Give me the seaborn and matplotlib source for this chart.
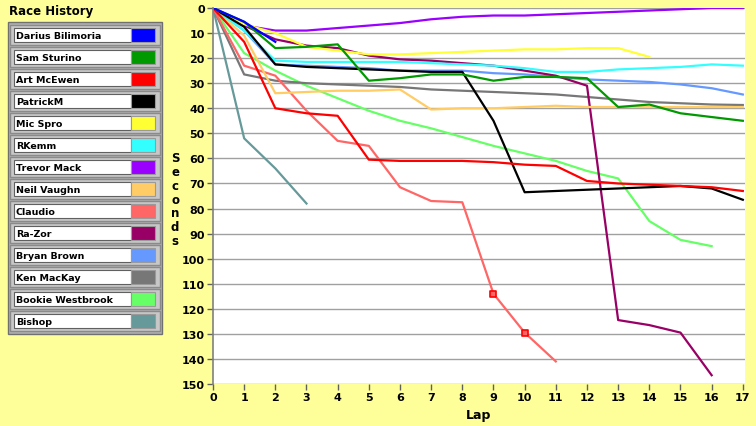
import matplotlib
matplotlib.use("Agg")
import matplotlib.pyplot as plt
from matplotlib.patches import Rectangle
import seaborn as sns
import pandas as pd

# race gap (seconds behind leader) per lap
drivers = ["Darius Bilimoria", "Sam Sturino", "Art McEwen", "PatrickM", "Mic Spro",
           "RKemm", "Trevor Mack", "Neil Vaughn", "Claudio", "Ra-Zor",
           "Bryan Brown", "Ken MacKay", "Bookie Westbrook", "Bishop"]
colors = ["#0000FF", "#009900", "#FF0000", "#000000", "#FFFF33",
          "#33FFFF", "#9900FF", "#FFCC66", "#FF6666", "#990066",
          "#6699FF", "#777777", "#66FF66", "#669999"]

darius = [0, 5.5, 13.5]
sam = [0, 5.5, 16, 15.5, 14.5, 29, 28, 26.5, 26.5, 29, 27.5, 27.5, 28, 39.5, 38.5, 42, 43.5, 45]
art = [0, 13.5, 40, 42, 43, 60.5, 61, 61, 61, 61.5, 62.5, 63, 69, 70, 70.5, 71, 71.5, 73]
patrick = [0, 7.5, 22.5, 23.5, 24, 24.5, 25, 25.5, 25.5, 45, 73.5, 73, 72.5, 72, 71.5, 71, 72, 76.5]
mic = [0, 6.5, 10, 15.5, 17, 18.5, 18.5, 18, 17.5, 17, 16.5, 16.5, 16, 16, 19.5]
rkemm = [0, 9, 21, 21.5, 21.5, 21.5, 21.5, 22, 22.5, 23, 24, 25.5, 25.5, 24.5, 24, 23.5, 22.5, 23]
trevor = [0, 7, 9, 9, 8, 7, 6, 4.5, 3.5, 3, 3, 2.5, 2, 1.5, 1, 0.5, 0, 0]
neil = [0, 11, 34, 33.5, 33, 33, 32.5, 40.5, 40, 40, 39.5, 39, 39.5, 39.5, 39.5, 39.5, 39.5, 39.5]
claudio = [0, 23, 27, 41, 53, 55, 71.5, 77, 77.5, 114, 129.5, 141]
razor = [0, 7, 12.5, 15, 16, 19, 20.5, 21, 22, 23, 25, 27, 31, 124.5, 126.5, 129.5, 146.5]
bryan = [0, 9, 22.5, 23, 23.5, 24, 25, 25, 25, 26, 26.5, 27.5, 28.5, 29, 29.5, 30.5, 32, 34.5]
ken = [0, 26.5, 29, 30, 30.5, 31, 31.5, 32.5, 33, 33.5, 34, 34.5, 35.5, 36.5, 37.5, 38, 38.5, 38.7]
bookie = [0, 18, 25, 31, 36, 41, 45, 48, 51.5, 55, 58, 61, 65, 68, 85, 92.5, 95]
bishop = [0, 52, 64, 78]

series = [darius, sam, art, patrick, mic, rkemm, trevor, neil, claudio, razor,
          bryan, ken, bookie, bishop]
claudio_marked = [9, 10]

rows = []
for name, vals in zip(drivers, series):
    for lap, v in enumerate(vals):
        rows.append({"driver": name, "lap": lap, "sec": v})
df = pd.DataFrame(rows)

BG = "#FFFF99"
fig = plt.figure(figsize=(7.56, 4.27), dpi=100, facecolor=BG)
ax = fig.add_axes([213 / 756, 42 / 427, 532 / 756, 376 / 427])
ax.set_facecolor("white")

# draw first driver last so it ends up on top
for name, col in reversed(list(zip(drivers, colors))):
    sub = df[df.driver == name]
    sns.lineplot(data=sub, x="lap", y="sec", color=col, linewidth=1.6, ax=ax,
                 legend=False)
cl = df[(df.driver == "Claudio") & (df.lap.isin(claudio_marked))]
ax.scatter(cl.lap, cl.sec, marker="s", s=22, facecolor="#FF6666",
           edgecolor="#FF0000", linewidth=1.2, zorder=5)

ax.set_xlim(0, 17.07)
ax.set_ylim(150, 0)
ax.set_xticks(range(0, 18))
ax.set_yticks(range(0, 151, 10))
ax.yaxis.grid(True, color="#A0A0A0", linewidth=1.0)
ax.xaxis.grid(False)
ax.set_axisbelow(True)
for s in ["top", "right", "bottom"]:
    ax.spines[s].set_visible(False)
ax.spines["left"].set_color("#808080")
ax.spines["left"].set_linewidth(1.2)
ax.tick_params(axis="both", direction="out", length=4, width=1, color="#606060",
               labelsize=8, pad=2)
for lbl in ax.get_xticklabels() + ax.get_yticklabels():
    lbl.set_fontweight("bold")
ax.set_xlabel("Lap", fontsize=9, fontweight="bold", labelpad=4)
ax.set_ylabel("")
fig.text(175 / 756, 1 - 200 / 427, "\n".join("Seconds"), ha="center", va="center",
         fontsize=8.5, fontweight="bold", linespacing=1.08)

# legend panel in pixel coords
lg = fig.add_axes([0, 0, 1, 1], facecolor="none")
lg.set_xlim(0, 756)
lg.set_ylim(427, 0)
lg.axis("off")
lg.text(9, 12, "Race History", fontsize=8.5, fontweight="bold", va="center", ha="left")
lg.add_patch(Rectangle((8, 23), 154, 312, facecolor="#B0B0B0", edgecolor="#707070", lw=1))
for i, (name, col) in enumerate(zip(drivers, colors)):
    c = 36 + 22 * i
    lg.add_patch(Rectangle((10, c - 10), 150, 20, facecolor="#C8C8C8",
                           edgecolor="#8A8A8A", lw=1))
    lg.add_patch(Rectangle((14, c - 7), 117, 14, facecolor="white",
                           edgecolor="#606060", lw=0.8))
    lg.add_patch(Rectangle((131, c - 7), 24, 14, facecolor=col,
                           edgecolor="#9A9A9A", lw=0.8))
    lg.text(16, c + 0.5, name, fontsize=6.8, fontweight="bold", va="center", ha="left")

fig.savefig("out.png", dpi=100, facecolor=BG)
